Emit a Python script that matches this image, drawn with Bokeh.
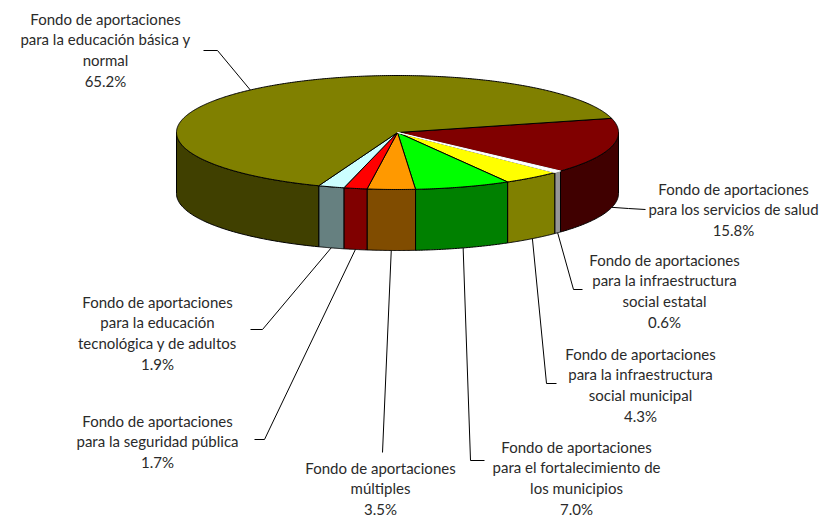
import numpy as np
from bokeh.plotting import figure
from bokeh.models import Range1d, ColumnDataSource
from bokeh.embed import file_html
from bokeh.resources import INLINE
from bokeh.core.properties import value

# ---- data (clockwise from the dark red slice) ----
names = [
    "Fondo de aportaciones\npara los servicios de salud",
    "Fondo de aportaciones\npara la infraestructura\nsocial estatal",
    "Fondo de aportaciones\npara la infraestructura\nsocial municipal",
    "Fondo de aportaciones\npara el fortalecimiento de\nlos municipios",
    "Fondo de aportaciones\nmúltiples",
    "Fondo de aportaciones\npara la seguridad pública",
    "Fondo de aportaciones\npara la educación\ntecnológica y de adultos",
    "Fondo de aportaciones\npara la educación básica y\nnormal",
]
shares = [15.8, 0.6, 4.3, 7.0, 3.5, 1.7, 1.9, 65.2]
top_colors = ["#800000", "#FFFFFF", "#FFFF00", "#00FF00", "#FF9900", "#FF0000", "#CCFFFF", "#808000"]
side_colors = ["#400000", "#969696", "#808000", "#008000", "#804C00", "#800000", "#668080", "#404000"]

# ---- layout (pixels of the page) ----
CX, CY, RX, RY, DEPTH = 397.0, 132.0, 221.0, 57.0, 61.0
START = -14.4  # degrees, screen coords (y down), clockwise
label_cx = [733, 664, 640, 576, 380, 157, 157, 105]
label_y0 = [188, 259, 353, 446, 467, 420, 301, 18]
elbows = [(628, 208), (573, 289), (546, 383), (470, 460), (382, 452), (264, 439), (262, 329), (217, 50)]
ends = [(645, 209), (582, 289), (556, 383), (484, 460), (382, 452), (254, 439), (250, 329), (203, 50)]
LINE_H = 20.8
FONT = "Lato"

W, H = 824, 519
p = figure(width=W, height=H, output_backend="svg", toolbar_location=None,
           x_range=Range1d(0, W), y_range=Range1d(H, 0),
           min_border=0, outline_line_color=None)
p.axis.visible = False
p.grid.visible = False
p.background_fill_color = "white"


def ell(t_deg, dy=0.0):
    t = np.radians(t_deg)
    return CX + RX * np.cos(t), CY + RY * np.sin(t) + dy


total = sum(shares)
bounds = [START]
for s in shares:
    bounds.append(bounds[-1] + 360.0 * s / total)

# sides (front half only: 0..180 deg)
sxs, sys_, scol = [], [], []
for i in range(len(shares)):
    a0, a1 = bounds[i], bounds[i + 1]
    for k in (-360, 0, 360):
        s0, s1 = max(a0 + k, 0.0), min(a1 + k, 180.0)
        if s1 > s0:
            tt = np.linspace(s0, s1, 60)
            xt, yt = ell(tt)
            xb, yb = ell(tt[::-1], DEPTH)
            sxs.append(list(np.concatenate([xt, xb])))
            sys_.append(list(np.concatenate([yt, yb])))
            scol.append(side_colors[i])
p.patches(xs=sxs, ys=sys_, fill_color=scol, line_color="black", line_width=1)

# tops
txs, tys, tcol, tline = [], [], [], []
order = [i for i in range(len(shares)) if top_colors[i] != "#FFFFFF"] + \
        [i for i in range(len(shares)) if top_colors[i] == "#FFFFFF"]
for i in order:
    a0, a1 = bounds[i], bounds[i + 1]
    n = max(int((a1 - a0) * 2), 6)
    tt = np.linspace(a0, a1, n)
    xa, ya = ell(tt)
    txs.append([CX] + list(xa))
    tys.append([CY] + list(ya))
    tcol.append(top_colors[i])
    tline.append("white" if top_colors[i] == "#FFFFFF" else "black")
p.patches(xs=txs, ys=tys, fill_color=tcol, line_color=tline, line_width=1)

# leader lines
lxs, lys = [], []
for i in range(len(shares)):
    m = (bounds[i] + bounds[i + 1]) / 2.0
    front = np.sin(np.radians(m)) > 0
    x0, y0 = ell(m, DEPTH if front else 0.0)
    lxs.append([float(x0), elbows[i][0], ends[i][0]])
    lys.append([float(y0), elbows[i][1], ends[i][1]])
p.multi_line(xs=lxs, ys=lys, line_color="black", line_width=1)

# labels
tx, ty, tt_ = [], [], []
for i in range(len(shares)):
    lines = names[i].split("\n") + [f"{shares[i]:.1f}%"]
    for j, ln in enumerate(lines):
        tx.append(label_cx[i])
        ty.append(label_y0[i] + j * LINE_H)
        tt_.append(ln)
src = ColumnDataSource(dict(x=tx, y=ty, text=tt_))
p.text(x="x", y="y", text="text", source=src, text_align="center", text_baseline="middle",
       text_font=value(FONT), text_font_size="15px", text_color="#2a2a2a")

open("out.html", "w").write(file_html(p, INLINE))
